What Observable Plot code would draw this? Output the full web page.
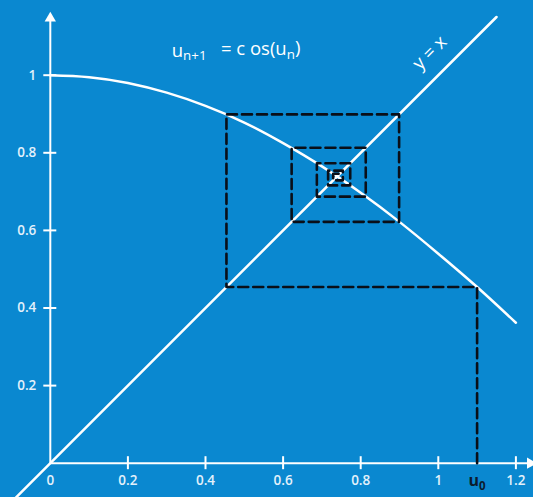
<!DOCTYPE html>
<html>
<head>
<meta charset="utf-8">
<script src="https://cdn.jsdelivr.net/npm/d3@7"></script>
<script src="https://cdn.jsdelivr.net/npm/@observablehq/plot@0.6"></script>
<style>
  html, body { margin: 0; padding: 0; background: #0a88d0; }
  #chart svg { display: block; background: #0a88d0; }
</style>
</head>
<body>
<div id="chart"></div>
<script>
// ---- data ----
const cosX = [0, 0.1, 0.2, 0.3, 0.4, 0.5, 0.6, 0.7, 0.8, 0.9, 1.0, 1.1, 1.2];
const cosY = [1.000, 0.995, 0.980, 0.955, 0.921, 0.878, 0.825, 0.765, 0.697, 0.622, 0.540, 0.454, 0.362];
const diagX = [-0.1, 1.15];
const uSeq = [1.1, 0.454, 0.899, 0.622, 0.813, 0.687, 0.773, 0.716, 0.754, 0.729, 0.746];
const xTicks = [0.2, 0.4, 0.6, 0.8, 1, 1.2];
const xLabelVals = [0, 0.2, 0.4, 0.6, 0.8, 1, 1.2];
const xLabels = ["0", "0.2", "0.4", "0.6", "0.8", "1", "1.2"];
const yTicks = [0.2, 0.4, 0.6, 0.8, 1];
const yLabels = ["0.2", "0.4", "0.6", "0.8", "1"];
const u0Label = "u{0}";
const titleText = "u{n+1}   = c os(u{n})";
const diagLabel = "y = x";

// ---- derived tables ----
const curve = cosX.map((x, i) => ({x, y: cosY[i]}));
const diag = diagX.map(x => ({x, y: x}));
const web = [{x: uSeq[0], y: 0}];
for (let k = 0; k < uSeq.length - 1; k++) {
  web.push({x: uSeq[k], y: uSeq[k + 1]});
  web.push({x: uSeq[k + 1], y: uSeq[k + 1]});
}
const xLab = xLabelVals.map((v, i) => ({v, t: xLabels[i]}));
const yLab = yTicks.map((v, i) => ({v, t: yLabels[i]}));

const W = 533, H = 497;
const ox = 49.8, oy = 462.7, k = 388;
const tx = 6.5 / k;
const font = "'Open Sans', Lato, sans-serif";
const white = "#ffffff";
const labCol = "#e3f1fb";

const plot = Plot.plot({
  width: W, height: H,
  margin: 0,
  x: {domain: [-ox / k, (W - ox) / k], axis: null},
  y: {domain: [-(H - oy) / k, oy / k], axis: null},
  style: {background: "#0a88d0", fontFamily: font},
  marks: [
    // axes
    Plot.ruleY([0], {x1: 0, x2: 1.235, stroke: white, strokeWidth: 2}),
    Plot.ruleX([0], {y1: 0, y2: 1.14, stroke: white, strokeWidth: 2}),
    Plot.dot([{x: 0, y: 1.147}], {x: "x", y: "y", symbol: "triangle", r: 4.2, fill: white, stroke: null}),
    Plot.dot([{x: 1.237, y: 0}], {x: "x", y: "y", symbol: "triangle", r: 4.2, fill: white, stroke: null, rotate: 90}),
    Plot.ruleX(xTicks, {x: d => d, y1: -tx, y2: tx, stroke: white, strokeWidth: 2}),
    Plot.ruleY(yTicks, {y: d => d, x1: -tx, x2: tx, stroke: white, strokeWidth: 2}),
    // tick labels
    Plot.text(xLab, {x: "v", y: () => 0, text: "t", dy: 17, fill: labCol, fontSize: 13.5, fontWeight: 600}),
    Plot.text(yLab, {x: () => 0, y: "v", text: "t", dx: -14, textAnchor: "end", fill: labCol, fontSize: 13.5, fontWeight: 600}),
    Plot.text([u0Label], {x: () => uSeq[0], y: () => 0, text: d => d, dy: 18, fill: "#0c1c2e", fontSize: 16, fontWeight: 700}),
    // curves
    Plot.line(diag, {x: "x", y: "y", stroke: white, strokeWidth: 2.5}),
    Plot.line(curve, {x: "x", y: "y", curve: "natural", stroke: white, strokeWidth: 2.5}),
    // cobweb
    Plot.line(web, {x: "x", y: "y", stroke: "#0a0f18", strokeWidth: 2.6, strokeDasharray: "10,5", curve: "linear"}),
    // annotations
    Plot.text([titleText], {x: () => 0.313, y: () => 1.063, text: d => d, textAnchor: "start", fill: white, fontSize: 18.5, fontWeight: 500}),
    Plot.text([diagLabel], {x: () => 0.978, y: () => 1.058, text: d => d, rotate: -45, fill: white, fontSize: 18.5, fontWeight: 500})
  ]
});

// subscript markup: u{n+1} -> u with subscript tspan
d3.select(plot).selectAll("text").each(function() {
  const el = d3.select(this);
  const txt = this.textContent;
  if (!txt.includes("{")) return;
  el.text("").style("white-space", "pre");
  const parts = txt.split(/(\{[^}]*\})/);
  let sub = false;
  parts.forEach(p => {
    if (!p) return;
    if (p.startsWith("{")) {
      el.append("tspan").attr("dy", "0.28em").attr("font-size", "0.72em").text(p.slice(1, -1));
      sub = true;
    } else {
      const t = el.append("tspan").text(p);
      if (sub) t.attr("dy", "-0.28em");
      sub = false;
    }
  });
});

document.getElementById("chart").appendChild(plot);
</script>
</body>
</html>
